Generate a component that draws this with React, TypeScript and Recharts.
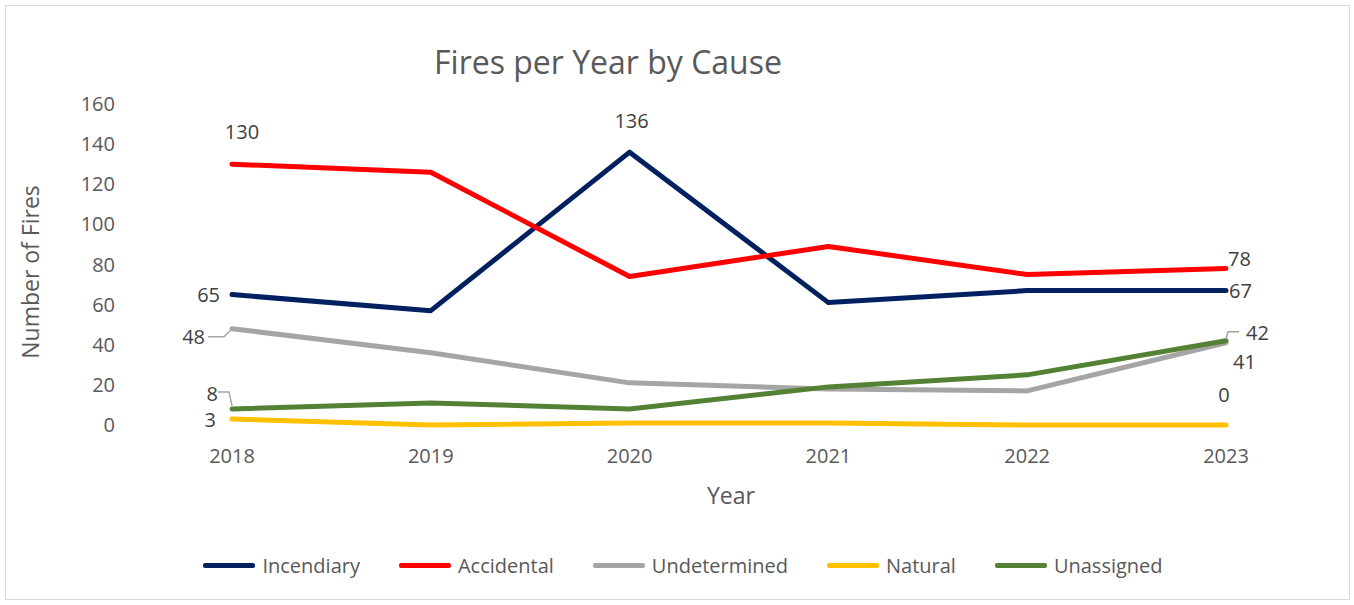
import { LineChart, Line, XAxis, YAxis, LabelList } from "recharts";

const years = ["2018", "2019", "2020", "2021", "2022", "2023"];
const incendiary = [65, 57, 136, 61, 67, 67];
const accidental = [130, 126, 74, 89, 75, 78];
const undetermined = [48, 36, 21, 18, 17, 41];
const natural = [3, 0, 1, 1, 0, 0];
const unassigned = [8, 11, 8, 19, 25, 42];
const yTicks = [0, 20, 40, 60, 80, 100, 120, 140, 160];

const seriesList = [
  { key: "Incendiary", values: incendiary, color: "#002060" },
  { key: "Accidental", values: accidental, color: "#FF0000" },
  { key: "Undetermined", values: undetermined, color: "#A5A5A5" },
  { key: "Natural", values: natural, color: "#FFC000" },
  { key: "Unassigned", values: unassigned, color: "#548235" },
];

const data = years.map((year, i) => {
  const row: Record<string, any> = { year };
  seriesList.forEach((s) => (row[s.key] = s.values[i]));
  return row;
});

const FONT = "'Open Sans', 'Liberation Sans', sans-serif";
const LABEL_COLOR = "#404040";
const LEADER = "#A5A5A5";

// which points get a data label, and where (offsets from the point)
type LabelSpec = { dx: number; dy: number; anchor: "start" | "middle" | "end"; leader?: number[][] };
const labelSpecs: Record<string, Record<number, LabelSpec>> = {
  Incendiary: {
    0: { dx: -12, dy: 0, anchor: "end" },
    2: { dx: 2, dy: -32, anchor: "middle" },
    5: { dx: 3, dy: 0, anchor: "start" },
  },
  Accidental: {
    0: { dx: 10, dy: -33, anchor: "middle" },
    5: { dx: 2, dy: -10, anchor: "start" },
  },
  Undetermined: {
    0: { dx: -27, dy: 8, anchor: "end", leader: [[-24, 8], [-8, 8], [0, 0]] },
    5: { dx: 7, dy: 19, anchor: "start" },
  },
  Natural: {
    0: { dx: -16, dy: 1, anchor: "end" },
    5: { dx: -2, dy: -31, anchor: "middle" },
  },
  Unassigned: {
    0: { dx: -14, dy: -15, anchor: "end", leader: [[-14, -17], [-3, -17], [0, -3]] },
    5: { dx: 20, dy: -8, anchor: "start", leader: [[13, -9], [2, -9], [0, -2]] },
  },
};

function makeLabel(seriesKey: string) {
  return (props: any) => {
    const { x, y, value, index } = props;
    const spec = labelSpecs[seriesKey]?.[index];
    if (!spec) return null;
    return (
      <g>
        {spec.leader && (
          <polyline
            points={spec.leader.map((p) => `${x + p[0]},${y + p[1]}`).join(" ")}
            fill="none"
            stroke={LEADER}
            strokeWidth={1.5}
          />
        )}
        <text
          x={x + spec.dx}
          y={y + spec.dy}
          textAnchor={spec.anchor}
          dominantBaseline="central"
          fontFamily={FONT}
          fontSize={20}
          fill={LABEL_COLOR}
        >
          {value}
        </text>
      </g>
    );
  };
}

function LegendBar() {
  return (
    <div
      style={{
        position: "absolute",
        left: 0,
        width: 1366,
        top: 552,
        display: "flex",
        justifyContent: "center",
        gap: 39,
        fontFamily: FONT,
        fontSize: 20,
        color: "#595959",
      }}
    >
      {seriesList.map((s) => (
        <div key={s.key} style={{ display: "flex", alignItems: "center" }}>
          <div style={{ width: 52, height: 5, background: s.color, borderRadius: 2, marginRight: 7 }} />
          <span>{s.key}</span>
        </div>
      ))}
    </div>
  );
}

export default function App() {
  return (
    <div style={{ position: "absolute", left: 0, top: 0, width: 1354, height: 605, background: "#fff" }}>
      <div
        style={{
          position: "absolute",
          left: 5,
          top: 5,
          width: 1343,
          height: 593,
          border: "1px solid #D9D9D9",
        }}
      />
      <div
        style={{
          position: "absolute",
          left: 0,
          width: 1216,
          top: 40,
          textAlign: "center",
          fontFamily: FONT,
          fontSize: 32,
          color: "#595959",
        }}
      >
        Fires per Year by Cause
      </div>
      <div
        style={{
          position: "absolute",
          left: 30,
          top: 272,
          transform: "translate(-50%, -50%) rotate(-90deg)",
          whiteSpace: "nowrap",
          fontFamily: FONT,
          fontSize: 23,
          color: "#595959",
        }}
      >
        Number of Fires
      </div>
      <div
        style={{
          position: "absolute",
          left: 731,
          top: 495,
          transform: "translate(-50%, -50%)",
          fontFamily: FONT,
          fontSize: 23,
          color: "#595959",
        }}
      >
        Year
      </div>
      <div style={{ position: "absolute", left: 0, top: 0 }}>
        <LineChart width={1354} height={605} data={data} margin={{ top: 104, right: 128, bottom: 140, left: 102 }}>
          <XAxis
            dataKey="year"
            axisLine={false}
            tickLine={false}
            tickSize={0}
            tickMargin={24}
            height={40}
            tick={{ fill: "#595959", fontSize: 20, fontFamily: FONT }}
          />
          <YAxis
            domain={[0, 160]}
            ticks={yTicks}
            axisLine={false}
            tickLine={false}
            tickSize={0}
            tickMargin={117}
            width={130}
            tick={{ fill: "#595959", fontSize: 20, fontFamily: FONT }}
          />
          {seriesList.map((s) => (
            <Line
              key={s.key}
              type="linear"
              dataKey={s.key}
              stroke={s.color}
              strokeWidth={5}
              strokeLinecap="round"
              strokeLinejoin="round"
              dot={false}
              activeDot={false}
              isAnimationActive={false}
            >
              <LabelList dataKey={s.key} content={makeLabel(s.key)} />
            </Line>
          ))}
        </LineChart>
      </div>
      <LegendBar />
    </div>
  );
}
